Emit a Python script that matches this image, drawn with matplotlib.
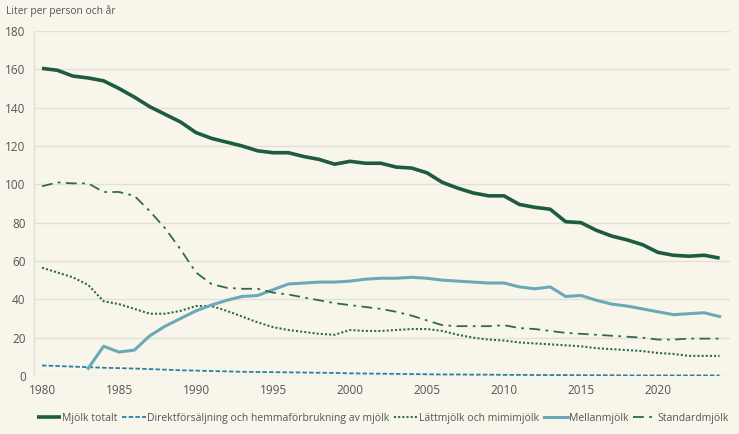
import matplotlib
matplotlib.use("Agg")
import matplotlib.pyplot as plt
import numpy as np

years = list(range(1980, 2025))

mjolk_totalt = [160.5, 159.5, 156.5, 155.5, 154, 150, 145.5, 140.5, 136.5, 132.5,
                127, 124, 122, 120, 117.5, 116.5, 116.5, 114.5, 113, 110.5,
                112, 111, 111, 109, 108.5, 106, 101, 98, 95.5, 94,
                94, 89.5, 88, 87, 80.5, 80, 76, 73, 71, 68.5,
                64.5, 63, 62.5, 63, 61.5]

direkt = [5.5, 5.2, 4.9, 4.6, 4.3, 4.1, 3.9, 3.6, 3.3, 3.0,
          2.8, 2.6, 2.4, 2.2, 2.1, 2.0, 1.9, 1.8, 1.7, 1.6,
          1.4, 1.3, 1.2, 1.1, 1.0, 0.9, 0.8, 0.8, 0.7, 0.7,
          0.6, 0.6, 0.5, 0.5, 0.5, 0.4, 0.4, 0.4, 0.3, 0.3,
          0.3, 0.3, 0.3, 0.3, 0.3]

lattmjolk = [56.5, 54, 51.5, 47.5, 39, 37.5, 35, 32.5, 32.5, 34,
             36.5, 36.5, 34, 31, 28, 25.5, 24, 23, 22, 21.5,
             24, 23.5, 23.5, 24, 24.5, 24.5, 23.5, 21.5, 20, 19,
             18.5, 17.5, 17, 16.5, 16, 15.5, 14.5, 14, 13.5, 13,
             12, 11.5, 10.5, 10.5, 10.5]

mellan_years = list(range(1983, 2025))
mellanmjolk = [4, 15.5, 12.5, 13.5, 21, 26, 30, 34,
               37, 39.5, 41.5, 42, 45, 48, 48.5, 49, 49,
               49.5, 50.5, 51, 51, 51.5, 51, 50, 49.5, 49, 48.5,
               48.5, 46.5, 45.5, 46.5, 41.5, 42, 39.5, 37.5, 36.5, 35,
               33.5, 32, 32.5, 33, 31]

standard = [99, 101, 100.5, 100.5, 96, 96, 94, 86, 77, 66,
            54, 48, 46, 45.5, 45.5, 43.5, 42.5, 41, 39.5, 38,
            37, 36, 35, 33.5, 31.5, 29, 26.5, 26, 26, 26,
            26.5, 25, 24.5, 23.5, 22.5, 22, 21.5, 21, 20.5, 20,
            19, 19, 19.5, 19.5, 19.5]

labels = ["Mjölk totalt", "Direktförsäljning och hemmaförbrukning av mjölk",
          "Lättmjölk och mimimjölk", "Mellanmjölk", "Standardmjölk"]
xticks = [1980, 1985, 1990, 1995, 2000, 2005, 2010, 2015, 2020]
yticks = [0, 20, 40, 60, 80, 100, 120, 140, 160, 180]

plt.rcParams['font.family'] = ['Open Sans', 'DejaVu Sans']
bg = "#f8f6ea"
W, H = 739, 434
fig = plt.figure(figsize=(W / 100, H / 100), dpi=100, facecolor=bg)
ax = fig.add_axes([34 / W, 1 - 376 / H, (730 - 34) / W, (376 - 31) / H], facecolor=bg)

dark = "#1e5c40"
mid = "#2f6a4f"
blue = "#2a7fa6"
teal = "#6ba9b8"

ax.plot(years, mjolk_totalt, color=dark, lw=2.6, label=labels[0], solid_capstyle='butt')
ax.plot(years, direkt, color=blue, lw=1.3, ls=(0, (2.5, 1.2)), label=labels[1])
ax.plot(years, lattmjolk, color=mid, lw=1.5, ls=(0, (1, 1)), label=labels[2])
ax.plot(mellan_years, mellanmjolk, color=teal, lw=2.2, label=labels[3])
ax.plot(years, standard, color=mid, lw=1.3, ls=(0, (6, 3, 1.5, 3)), label=labels[4])

px_per_year = 15.4
x0 = 1980 - 8 / px_per_year
x1 = 1980 + (730 - 42) / px_per_year
ax.set_xlim(x0, x1)
ax.set_ylim(0, 180)
ax.set_xticks(xticks)
ax.set_yticks(yticks)
ax.grid(axis='y', color="#e2e0d8", lw=1.0)
ax.set_axisbelow(True)
for s in ['top', 'right', 'bottom']:
    ax.spines[s].set_visible(False)
ax.spines['left'].set_color("#e2e0d8")
ax.spines['left'].set_linewidth(1.0)
ax.tick_params(axis='both', length=0, labelsize=8.5, colors="#555555")
ax.tick_params(axis='x', pad=6)
ax.tick_params(axis='y', pad=6)

fig.text(6 / W, 1 - 11 / H, "Liter per person och år", fontsize=7.4, color="#555555",
         va='center', ha='left')

leg = fig.legend(loc='center', bbox_to_anchor=(383 / W, 1 - 418 / H), ncol=5, frameon=False,
                 fontsize=7.5, handlelength=2.3, handletextpad=0.1, columnspacing=0.45,
                 borderaxespad=0, borderpad=0, labelcolor="#555555")

fig.savefig("out.png", dpi=100, facecolor=bg)
